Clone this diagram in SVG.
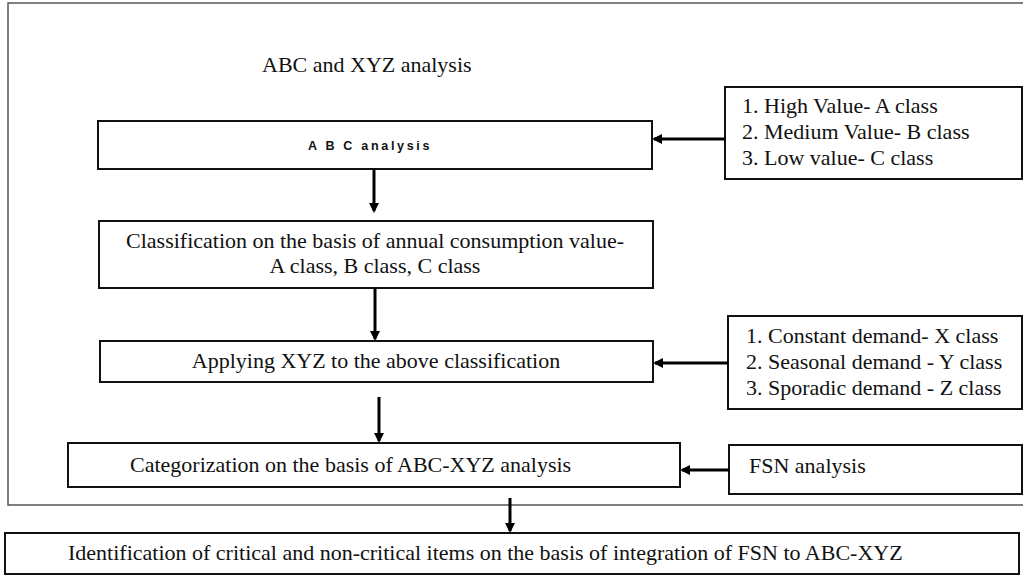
<svg xmlns="http://www.w3.org/2000/svg" width="1023" height="575" viewBox="0 0 1023 575">
<style>
.box{fill:#fff;stroke:#111;stroke-width:2}
.t{font-family:"Liberation Serif","Times New Roman",serif;font-size:22px;fill:#111}
.c{text-anchor:middle}
.ln{stroke:#000;stroke-width:3;fill:none}
</style>
<defs>
<marker id="ah" markerWidth="10" markerHeight="10" refX="8" refY="5" orient="auto" markerUnits="userSpaceOnUse">
<path d="M0,0 L10,5 L0,10 Z" fill="#000"/>
</marker>
</defs>
<rect width="1023" height="575" fill="#fff"/>
<g id="frame">
<rect x="8" y="3" width="1020" height="502" fill="none" stroke="#555" stroke-width="1.5"/>
</g>
<g id="title"><text class="t" x="262" y="72">ABC and XYZ analysis</text></g>
<g id="abc">
<rect class="box" x="98" y="121" width="554" height="48"/>
<text x="308" y="150" font-family="Liberation Sans, Arial, sans-serif" font-size="12.5" font-weight="bold" letter-spacing="2.7" fill="#111">A B C analysis</text>
</g>
<g id="abcclasses">
<rect class="box" x="725" y="87" width="297" height="92"/>
<text class="t" x="742" y="113">1. High Value- A class</text>
<text class="t" x="742" y="139">2. Medium Value- B class</text>
<text class="t" x="742" y="165">3. Low value- C class</text>
</g>
<g id="classification">
<rect class="box" x="99" y="221" width="554" height="67"/>
<text class="t c" x="375" y="248">Classification on the basis of annual consumption value-</text>
<text class="t c" x="375" y="273">A class, B class, C class</text>
</g>
<g id="applying">
<rect class="box" x="100" y="341" width="553" height="41"/>
<text class="t c" x="376" y="368">Applying XYZ to the above classification</text>
</g>
<g id="xyzclasses">
<rect class="box" x="728" y="316" width="294" height="93"/>
<text class="t" x="746" y="343">1. Constant demand- X class</text>
<text class="t" x="746" y="369">2. Seasonal demand - Y class</text>
<text class="t" x="746" y="395">3. Sporadic demand - Z class</text>
</g>
<g id="categorization">
<rect class="box" x="68" y="443" width="612" height="44"/>
<text class="t" x="130" y="472">Categorization on the basis of ABC-XYZ analysis</text>
</g>
<g id="fsn">
<rect class="box" x="729" y="445" width="293" height="49"/>
<text class="t" x="749" y="473">FSN analysis</text>
</g>
<g id="identification">
<rect class="box" x="5" y="533" width="1014" height="41"/>
<text class="t" x="68" y="560">Identification of critical and non-critical items on the basis of integration of FSN to ABC-XYZ</text>
</g>
<g id="connectors">
<line class="ln" x1="725" y1="139" x2="654" y2="139" marker-end="url(#ah)"/>
<line class="ln" x1="374" y1="169" x2="374" y2="211" marker-end="url(#ah)"/>
<line class="ln" x1="375" y1="288" x2="375" y2="339" marker-end="url(#ah)"/>
<line class="ln" x1="728" y1="363" x2="655" y2="363" marker-end="url(#ah)"/>
<line class="ln" x1="379" y1="397" x2="379" y2="441" marker-end="url(#ah)"/>
<line class="ln" x1="729" y1="470" x2="682" y2="470" marker-end="url(#ah)"/>
<line class="ln" x1="510" y1="498" x2="510" y2="531" marker-end="url(#ah)"/>
</g>
</svg>
